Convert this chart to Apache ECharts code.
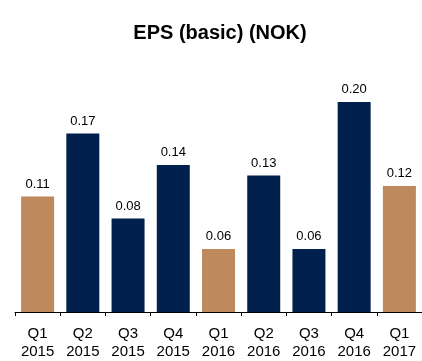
<!DOCTYPE html>
<html>
<head>
<meta charset="utf-8">
<script src="https://cdn.jsdelivr.net/npm/echarts@6/dist/echarts.min.js"></script>
<style>html,body{margin:0;padding:0;background:#fff;}#c{width:422px;height:361px;}</style>
</head>
<body>
<div id="c"></div>
<script>
const categories = ["Q1\n2015","Q2\n2015","Q3\n2015","Q4\n2015","Q1\n2016","Q2\n2016","Q3\n2016","Q4\n2016","Q1\n2017"];
const values = [0.11, 0.17, 0.089, 0.14, 0.06, 0.13, 0.06, 0.20, 0.12];
const valueLabels = ["0.11","0.17","0.08","0.14","0.06","0.13","0.06","0.20","0.12"];
const isQ1 = [true,false,false,false,true,false,false,false,true];

const NAVY = "#01204D";
const TAN = "#BE8A5D";

const chart = echarts.init(document.getElementById('c'), null, {renderer:'canvas'});
chart.setOption({
  animation: false,
  backgroundColor: '#fff',
  title: {
    text: 'EPS (basic) (NOK)',
    left: 215, top: 18, textAlign: 'center',
    textStyle: {fontFamily: 'Liberation Sans, Arial, sans-serif', fontWeight: 'bold', fontSize: 20, color: '#000'}
  },
  grid: {left: 15, width: 410.6, top: 102, height: 212.5, containLabel: false},
  xAxis: {
    type: 'category',
    data: categories,
    axisLine: {lineStyle: {color: '#000', width: 1}},
    axisTick: {show: true, length: 4, lineStyle: {color: '#000'}},
    axisLabel: {
      color: '#000', fontFamily: 'Liberation Sans, Arial, sans-serif', fontSize: 15,
      lineHeight: 18, margin: 13, interval: 0
    }
  },
  yAxis: {type: 'value', min: 0, max: 0.2, show: false, splitLine: {show: false}},
  series: [{
    type: 'bar',
    barWidth: 33,
    data: values.map((v, i) => ({value: v, itemStyle: {color: isQ1[i] ? TAN : NAVY}})),
    label: {
      show: true, position: 'top', distance: 6,
      color: '#000', fontFamily: 'Liberation Sans, Arial, sans-serif', fontSize: 13,
      formatter: p => valueLabels[p.dataIndex]
    }
  }]
});
</script>
</body>
</html>
